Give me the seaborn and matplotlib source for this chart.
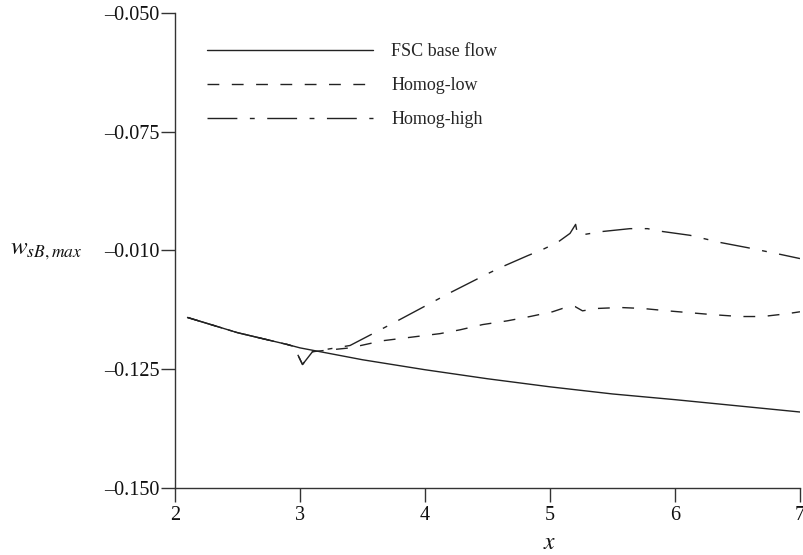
import numpy as np
import pandas as pd
import matplotlib
matplotlib.use("Agg")
import matplotlib.pyplot as plt
import seaborn as sns

# values
fsc_x = [2.1, 2.5, 2.9, 3.0, 3.5, 4.0, 4.5, 5.0, 5.5, 6.0, 6.5, 7.0]
fsc_y = [-0.1141, -0.1173, -0.1198, -0.1205, -0.1230, -0.1251, -0.1270,
         -0.1287, -0.1302, -0.1314, -0.1327, -0.1340]

low_x = [2.1, 2.5, 2.9, 2.95, 3.02, 3.1, 3.4, 3.66, 4.12, 4.28, 4.46, 4.66, 4.84,
         5.02, 5.1, 5.2, 5.26, 5.38, 5.56, 5.74, 5.94, 6.12, 6.3, 6.52, 6.7, 6.9, 7.0]
low_y = [-0.1141, -0.1173, -0.1198, -0.1202, -0.1240, -0.1213, -0.1205, -0.1190,
         -0.1175, -0.1167, -0.1156, -0.1148, -0.1139, -0.1129, -0.1122, -0.1118,
         -0.1127, -0.1122, -0.1120, -0.1122, -0.1127, -0.1131, -0.1135, -0.1139,
         -0.1139, -0.1133, -0.1129]

high_x = [2.1, 2.5, 2.9, 2.95, 3.02, 3.1, 3.4, 3.78, 4.2, 4.5, 4.62, 4.82, 4.94,
          5.06, 5.16, 5.205, 5.22, 5.28, 5.42, 5.64, 5.78, 5.9, 6.12, 6.36, 6.58,
          6.84, 7.0]
high_y = [-0.1141, -0.1173, -0.1198, -0.1202, -0.1240, -0.1213, -0.1200, -0.1148,
          -0.1089, -0.1049, -0.1034, -0.1011, -0.0998, -0.0983, -0.0964, -0.0945,
          -0.0966, -0.0966, -0.0960, -0.0954, -0.0954, -0.0960, -0.0968, -0.0983,
          -0.0994, -0.1008, -0.1017]

y_ticks = [-0.150, -0.125, -0.100, -0.075, -0.050]
y_tick_labels = ["\u20130.150", "\u20130.125", "\u20130.010", "\u20130.075", "\u20130.050"]
x_ticks = [2, 3, 4, 5, 6, 7]

sns.set_theme(style="ticks")
plt.rcParams["font.family"] = ["Liberation Serif", "DejaVu Serif"]
plt.rcParams["mathtext.fontset"] = "stix"

fig = plt.figure(figsize=(8.04, 5.55), dpi=100)
ax = fig.add_axes([0.2177, 0.1207, 0.7773, 0.8559])

ink = "#222222"
sns.lineplot(x=fsc_x, y=fsc_y, ax=ax, color=ink, lw=1.0, sort=False,
             estimator=None, label="FSC base flow")
sns.lineplot(x=low_x, y=low_y, ax=ax, color=ink, lw=1.0, sort=False,
             estimator=None, linestyle=(0, (8.5, 9)), label="Homog-low")
sns.lineplot(x=high_x, y=high_y, ax=ax, color=ink, lw=1.0, sort=False,
             estimator=None, linestyle=(0, (21.5, 9, 3.5, 9)), label="Homog-high")

ax.set_xlim(2, 7)
ax.set_ylim(-0.150, -0.050)
ax.set_xticks(x_ticks)
ax.set_xticklabels([str(t) for t in x_ticks])
ax.set_yticks(y_ticks)
ax.set_yticklabels(y_tick_labels)

sns.despine(ax=ax)
for s in ["left", "bottom"]:
    ax.spines[s].set_color("#333333")
    ax.spines[s].set_linewidth(1.0)
ax.tick_params(axis="both", direction="out", length=10, width=1.0, color="#333333",
               labelsize=14.5, labelcolor="#111111")
ax.tick_params(axis="y", pad=1)
ax.tick_params(axis="x", pad=3)

ax.set_xlabel(r"$x$", fontsize=17, color="#111111")
ax.xaxis.set_label_coords(0.6, -0.095)
ax.set_ylabel(r"$w_{sB,max}$", fontsize=18, rotation=0, ha="right", va="center",
              color="#111111")
ax.yaxis.set_label_coords(-0.149, 0.498)

ax.legend(loc="upper left", bbox_to_anchor=(0.051, 0.937), frameon=False,
          fontsize=13, handlelength=9.2, handletextpad=1.0, labelspacing=0.95,
          borderaxespad=0, borderpad=0)

fig.savefig("out.png", dpi=100)
